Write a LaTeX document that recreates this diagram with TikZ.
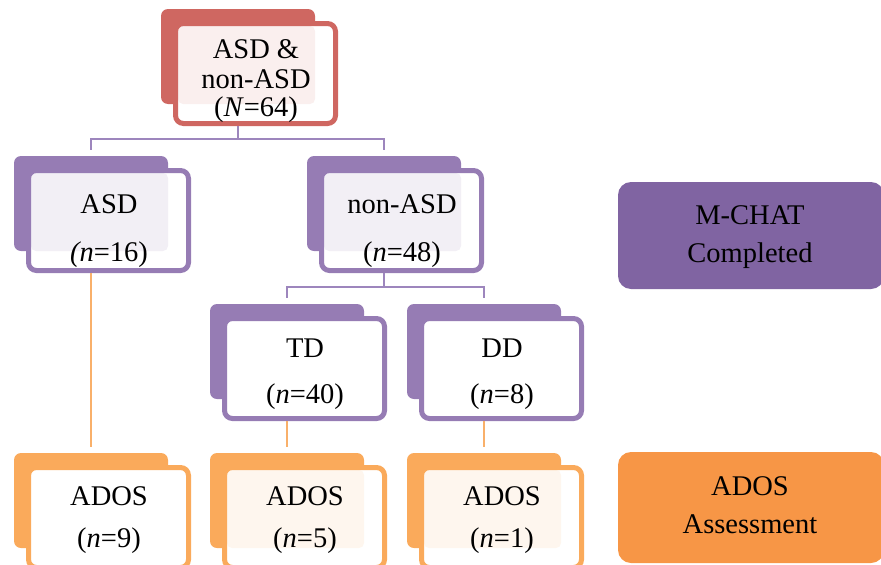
\documentclass[tikz,border=0pt]{standalone}
\usepackage{fontspec}
\setmainfont{Liberation Serif}
\definecolor{redc}{HTML}{CF6761}
\definecolor{purc}{HTML}{967CB4}
\definecolor{purl}{HTML}{9D86BD}
\definecolor{orac}{HTML}{FAAA5B}
\definecolor{oral}{HTML}{F9B06A}
\definecolor{mchatc}{HTML}{8064A2}
\definecolor{adosc}{HTML}{F79646}
\tikzset{
  backbox/.style={draw=none, minimum width=154pt, minimum height=95pt, inner sep=0pt, rounded corners=7pt},
  frontbox/.style={fill=white, line width=5pt, minimum width=160pt, minimum height=100pt, inner sep=0pt, rounded corners=8pt},
  lbl/.style={anchor=base, inner sep=0pt, font=\fontsize{28.5pt}{34pt}\selectfont, text=black},
  pcon/.style={draw=purl, line width=2pt},
  ocon/.style={draw=oral, line width=2pt},
  sidebox/.style={draw=none, inner sep=0pt, rounded corners=13pt}
}
\newcommand\dbox[5]{%
  \node[backbox, fill=#2] (#1b) at (#3+77,#4+47.5) {};
  \node[frontbox, draw=#2] (#1f) at (#3+94.5,#4+64.5) {};
  \fill[#2, fill opacity=#5, rounded corners=5pt] (#3+17,#4+17) rectangle (#3+154,#4+95);
}
\begin{document}
\begin{tikzpicture}[x=1pt,y=-1pt]
\useasboundingbox (0,0) rectangle (881,565);
% boxes
\dbox{top}{redc}{161}{9}{0.1}
\dbox{asd}{purc}{14}{156}{0.12}
\dbox{nonasd}{purc}{307}{156}{0.12}
\dbox{td}{purc}{210}{304}{0}
\dbox{dd}{purc}{407}{304}{0}
\dbox{adosa}{orac}{14}{453}{0}
\dbox{adosb}{orac}{210}{453}{0.1}
\dbox{adosc}{orac}{407}{453}{0.1}
% texts
\node[lbl] (topt1) at (256,58) {ASD \&};
\node[lbl] (topt2) at (256,88) {non-ASD};
\node[lbl] (topt3) at (256,116) {(\textit{N}=64)};
\node[lbl] (asdt1) at (109,213) {ASD};
\node[lbl] (asdt2) at (109,261) {\textit{(n}=16)};
\node[lbl] (nont1) at (402,213) {non-ASD};
\node[lbl] (nont2) at (402,261) {(\textit{n}=48)};
\node[lbl] (tdt1) at (305,357) {TD};
\node[lbl] (tdt2) at (305,403) {(\textit{n}=40)};
\node[lbl] (ddt1) at (502,357) {DD};
\node[lbl] (ddt2) at (502,403) {(\textit{n}=8)};
\node[lbl] (adosat1) at (109,505) {ADOS};
\node[lbl] (adosat2) at (109,547) {(\textit{n}=9)};
\node[lbl] (adosbt1) at (305,505) {ADOS};
\node[lbl] (adosbt2) at (305,547) {(\textit{n}=5)};
\node[lbl] (adosct1) at (502,505) {ADOS};
\node[lbl] (adosct2) at (502,547) {(\textit{n}=1)};
% connectors
\draw[pcon] (topb.south |- topf.south) -- ++(0,13) -| ([yshift=6pt]asdb.north);
\draw[pcon] (topb.south |- topf.south) -- ++(0,13) -| ([yshift=6pt]nonasdb.north);
\draw[pcon] (nonasdb.south |- nonasdf.south) -- ++(0,14) -| ([yshift=6pt]tdb.north);
\draw[pcon] (nonasdb.south |- nonasdf.south) -- ++(0,14) -| ([yshift=6pt]ddb.north);
\draw[ocon] (asdb.south |- asdf.south) -- ([yshift=6pt]adosab.north);
\draw[ocon] (tdb.south |- tdf.south) -- ([yshift=6pt]adosbb.north);
\draw[ocon] (ddb.south |- ddf.south) -- ([yshift=6pt]adoscb.north);
% side labels
\node[sidebox, fill=mchatc, minimum width=266pt, minimum height=107pt] (mchat) at (751,235.5) {};
\node[lbl] (mchat1) at (750,224) {M-CHAT};
\node[lbl] (mchat2) at (750,262) {Completed};
\node[sidebox, fill=adosc, minimum width=266pt, minimum height=111pt] (assess) at (751,507.5) {};
\node[lbl] (assess1) at (750,495) {ADOS};
\node[lbl] (assess2) at (750,533) {Assessment};
\end{tikzpicture}
\end{document}
